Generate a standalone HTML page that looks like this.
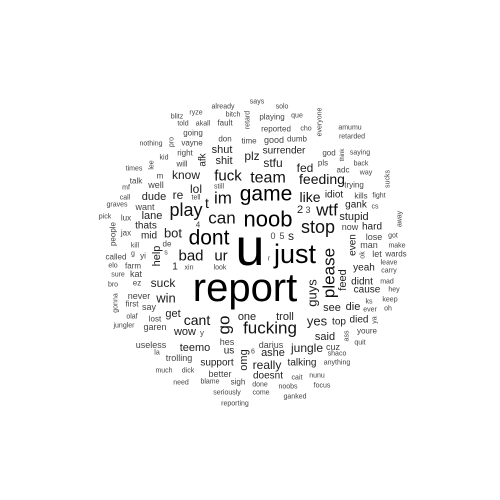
<!DOCTYPE html>
<html><head><meta charset="utf-8"><style>
html,body{margin:0;padding:0;background:#fff;width:500px;height:500px;overflow:hidden}
svg text{font-family:"Liberation Sans",Arial,sans-serif}
</style></head><body>
<svg id="cloud" width="500" height="500" viewBox="0 0 500 500" xmlns="http://www.w3.org/2000/svg">
<rect width="500" height="500" fill="#fff"/>
</svg>
<script>
const words=["report","u","just","noob","game","dont","can","im","fuck","team","feeding","like","wtf","2","3","stop","0","5","s","r","please","guys","ur","bad","xin","look","cant","go","one","troll","fucking","yes","wow","y","said","see",
"already","says","bitch","retard","blitz","ryze","told","akall","fault","going","pro","vayne","don","time","nothing","shut","kid","right","will","afk","shit","plz","times","lee","m","know","talk","well","mf","lol","still","call","dude","re","tell","t","graves","want","play","pick","lux","lane","people","jax","thats","4","mid","bot","kill","de","called","g","yi","help","s",
"solo","playing","que","everyone","reported","cho","amumu","good","dumb","retarded","surrender","god","think","saying","stfu","fed","pls","adc","back","way","sucks","trying","idiot","kills","fight","gank","cs","away","stupid","now","hard","lose","got","even","man","make","ok","let","wards",
"leave","yeah","carry","feed","didnt","mad","cause","hey","ks","keep","ever","oh","die","top","died","ya","ass","youre","quit","darius","ashe","jungle","cuz","shaco","6","really","talking","anything","doesnt","cait","nunu","done","noobs","focus","come","ganked",
"elo","farm","1","sure","kat","ez","suck","bro","gonna","never","first","say","win","olaf","lost","get","jungler","garen","useless","teemo","hes","la","trolling","us","omg","support","much","dick","better","need","blame","sigh","seriously","reporting"];
const sizes=[40,52,27,22,21,21,17,17,15,16,14,14,17,11,9,18,9,9,12,7,17,13,15,15,7,7,14,17,11,11,17,13,11,8,11,11,
7,7,7,7,7,7,7,7,8,8,7,8,8,8,7,11,7,8,8,10,11,12,7,7,8,12,8,9,7,12,7,7,11,12,7,14,7,9,18,7,8,11,8,8,10,8,10,13,7,8,8,7,8,11,7,
7,8,7,7,8,7,7,9,8,7,10,8,6,7,12,12,8,8,7,7,7,8,10,8,7,10,7,7,11,9,10,9,7,10,9,7,7,9,8,
7,10,7,11,10,7,10,7,7,7,7,7,11,10,10,7,7,8,7,9,11,12,9,7,7,12,10,7,10,7,7,7,7,7,7,7,
7,8,10,7,9,8,12,7,7,9,8,9,13,7,8,11,7,9,9,11,9,7,9,10,11,10,7,7,9,7,7,8,7,7];
const xs=[245,250,295,268,266,209,222,223,228,268,322,310,327,300,308,318,273,282,291,269,329,312,221,191,189,220,197,224,247,285,270,317,185,202,325,332,
223,257,233,248,177,196,183,203,225,193,172,192,225,249,151,222,164,185,182,203,224,252,134,152,160,186,136,156,126,196,219,125,154,178,196,207,117,145,186,105,126,152,113,126,146,198,149,173,135,167,116,133,143,157,166,
282,272,297,320,276,306,350,274,297,352,284,329,343,360,273,305,323,343,361,366,388,354,334,361,379,356,375,400,354,350,372,374,393,353,369,397,363,377,396,
389,364,389,343,362,387,367,394,369,390,370,388,353,339,359,375,347,367,360,271,273,307,333,337,253,267,302,337,268,297,317,260,288,322,261,295,
113,133,175,118,136,137,163,113,116,139,132,149,166,132,155,173,124,155,151,195,227,157,179,229,244,217,164,188,220,181,210,238,227,235];
const ys=[288,248,254,219,194,238,218,198,176,178,179,197,210,210,210,227,236,236,236,259,273,293,256,256,268,268,320,325,317,317,328,321,332,333,337,308,
107,102,115,120,117,113,124,124,123,133,142,143,139,141,144,150,158,153,164,160,161,156,169,165,176,175,181,185,188,189,187,198,197,195,198,203,205,207,210,217,218,216,234,233,226,225,236,233,246,244,257,254,256,256,253,
107,117,116,122,129,129,128,140,139,137,151,153,155,153,163,168,163,170,164,173,179,185,195,196,196,205,207,219,217,227,227,237,236,245,245,246,255,254,254,
263,268,271,280,282,282,290,290,302,300,310,309,307,322,320,320,336,331,343,345,353,348,347,354,352,365,363,363,376,378,376,385,387,386,393,397,
266,266,267,275,274,283,283,285,303,296,304,307,298,317,319,314,326,327,345,348,342,353,358,351,360,363,371,371,374,383,382,382,393,404];
const vertical=["please","guys","go","retard","pro","afk","lee","people","help","everyone","think","sucks","away","even","ok","feed","ya","ass","gonna","omg"];
const svg=document.getElementById('cloud');
const NS='http://www.w3.org/2000/svg';
function colorFor(s){return s>=20?'#000':s>=14?'#111':s>=10?'#222':'#444';}
for(let i=0;i<words.length;i++){
  const t=document.createElementNS(NS,'text');
  t.setAttribute('x',xs[i]);t.setAttribute('y',ys[i]);
  t.setAttribute('font-size',sizes[i]);
  t.setAttribute('text-anchor','middle');
  t.setAttribute('dominant-baseline','central');
  t.setAttribute('fill',colorFor(sizes[i]));
  if(vertical.includes(words[i])) t.setAttribute('transform','rotate(-90 '+xs[i]+' '+ys[i]+')');
  
  
  t.textContent=words[i];
  svg.appendChild(t);
}
</script>
</body></html>
